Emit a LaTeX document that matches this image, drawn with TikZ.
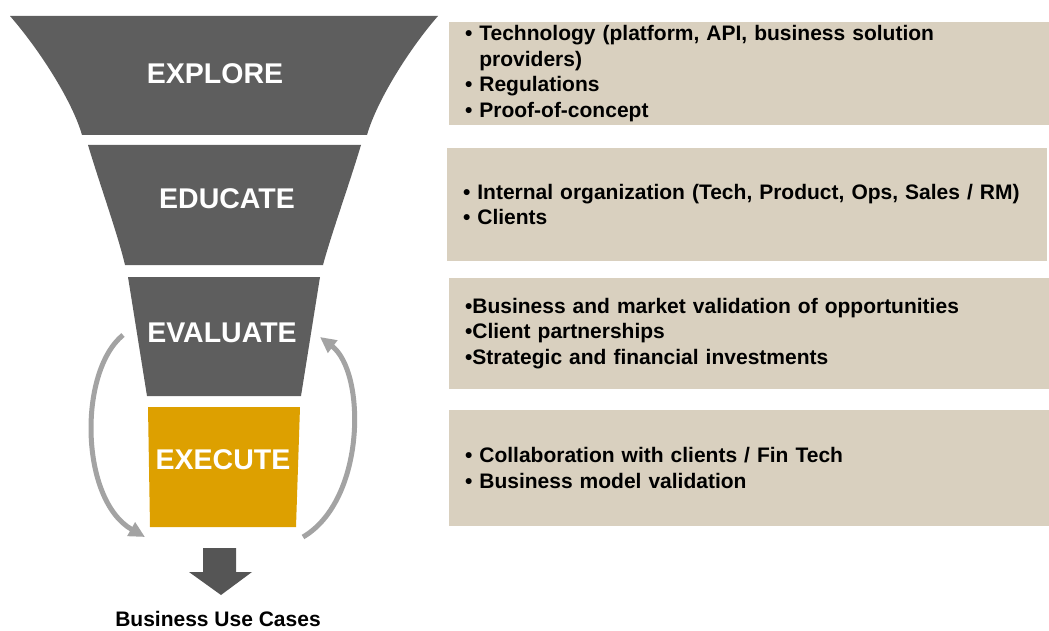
\documentclass[tikz,border=0pt]{standalone}
\usepackage{fontspec}
\setmainfont{Liberation Sans}
\usepackage{tikz}
\usetikzlibrary{arrows.meta,positioning}
\definecolor{funnelgray}{HTML}{5E5E5E}
\definecolor{executegold}{HTML}{DDA000}
\definecolor{infotan}{HTML}{D9D0BF}
\definecolor{cyclegray}{HTML}{A3A3A3}
\definecolor{downgray}{HTML}{555555}
\tikzset{
    stage/.style={fill=funnelgray},
    stagelabel/.style={text=white,inner sep=0pt,font=\bfseries\fontsize{28.5}{31}\selectfont},
    infobox/.style={fill=infotan,minimum width=600pt,inner xsep=16pt,inner ysep=0pt,
        text width=568pt,align=left,font=\bfseries\fontsize{21}{25.7}\selectfont},
    cycle/.style={draw=cyclegray,line width=5pt,-{Triangle[length=16pt,width=15pt]}},
    caption/.style={inner sep=0pt,font=\bfseries\fontsize{21}{24}\selectfont},
}

\begin{document}
\begin{tikzpicture}[x=1pt,y=-1pt]
    \useasboundingbox (0,0) rectangle (1049,631);

    % funnel stages
    \fill[stage] (10,16) -- (438,16) .. controls (410,48) and (377,100) .. (367,135)
        -- (82,135) .. controls (72,100) and (38,48) .. (10,16) -- cycle;
    \fill[stage] (88,145) -- (361,145) .. controls (349,185) and (331,235) .. (323,265)
        -- (125,265) .. controls (118,235) and (100,185) .. (88,145) -- cycle;
    \fill[stage] (128,277) -- (320,277) -- (301,396) -- (147,396) -- cycle;
    \fill[executegold] (148,407) -- (300,407) -- (296,527) -- (150,527) -- cycle;

    \node[stagelabel] (explore)  at (215,74)  {EXPLORE};
    \node[stagelabel] (educate)  at (227,199) {EDUCATE};
    \node[stagelabel] (evaluate) at (222,333) {EVALUATE};
    \node[stagelabel] (execute)  at (223,460) {EXECUTE};

    % loop between evaluate and execute
    \coordinate (lefttop) at (123,335);
    \coordinate (leftend) at (145,537);
    \coordinate (rightbot) at (303,537);
    \coordinate (righttop) at (320,337);
    \draw[cycle] (lefttop) .. controls (78,372) and (80,500) .. (leftend);
    \draw[cycle] (rightbot) .. controls (366,500) and (366,372) .. (righttop);

    % outcome
    \fill[downgray] (203,548) -- (236,548) -- (236,572) -- (252,572) -- (221,595)
        -- (189,572) -- (203,572) -- cycle;
    \node[caption] (usecases) at (218,619) {Business Use Cases};

    % descriptions
    \node[infobox,minimum height=103pt] (exploreinfo) at (749,73.5)
        {\textbullet{} Technology (platform, API, business solution\\
         \phantom{\textbullet{} }providers)\\
         \textbullet{} Regulations\\
         \textbullet{} Proof-of-concept};
    \node[infobox,minimum height=113pt] (educateinfo) at (747,204.5)
        {\textbullet{} Internal organization (Tech, Product, Ops, Sales / RM)\\
         \textbullet{} Clients};
    \node[infobox,minimum height=111pt] (evaluateinfo) at (749,333.5)
        {\textbullet Business and market validation of opportunities\\
         \textbullet Client partnerships\\
         \textbullet Strategic and financial investments};
    \node[infobox,minimum height=116pt] (executeinfo) at (749,468)
        {\textbullet{} Collaboration with clients / Fin Tech\\
         \textbullet{} Business model validation};
\end{tikzpicture}
\end{document}
